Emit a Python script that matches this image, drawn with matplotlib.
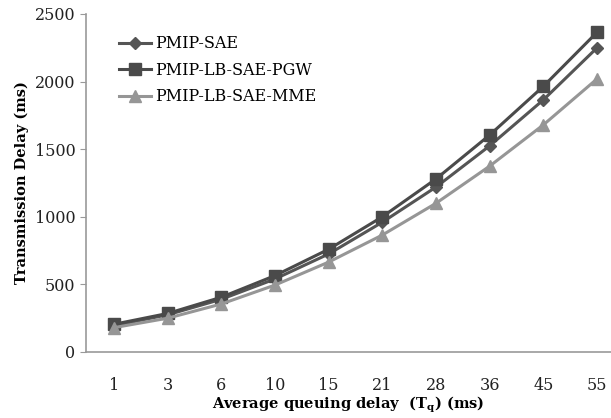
import matplotlib
matplotlib.use("Agg")
import matplotlib.pyplot as plt
import numpy as np

categories = ["1", "3", "6", "10", "15", "21", "28", "36", "45", "55"]
pmip_sae = [195, 275, 390, 540, 725, 960, 1220, 1525, 1865, 2250]
pmip_lb_pgw = [205, 285, 405, 565, 760, 1000, 1280, 1605, 1965, 2365]
pmip_lb_mme = [180, 250, 355, 495, 665, 865, 1100, 1375, 1680, 2020]
yticks = [0, 500, 1000, 1500, 2000, 2500]

plt.rcParams['font.family'] = ['DejaVu Serif']

fig = plt.figure(figsize=(6.11, 4.18), dpi=100)
ax = fig.add_axes([86/611, 1-352/418, 1-86/611, 338/418])

x = np.arange(len(categories))
ax.plot(x, pmip_sae, color='#555555', marker='D', markersize=6, lw=2.2, label='PMIP-SAE')
ax.plot(x, pmip_lb_pgw, color='#4a4a4a', marker='s', markersize=8, lw=2.2, label='PMIP-LB-SAE-PGW')
ax.plot(x, pmip_lb_mme, color='#969696', marker='^', markersize=8, lw=2.2, label='PMIP-LB-SAE-MME')

ax.set_xlim(-0.52, 9.26)
ax.set_ylim(0, 2500)
ax.set_xticks(x)
ax.set_xticklabels(categories)
ax.set_yticks(yticks)
for s in ['top', 'right']:
    ax.spines[s].set_visible(False)
for s in ['left', 'bottom']:
    ax.spines[s].set_color('#999999')
    ax.spines[s].set_linewidth(1.2)
ax.tick_params(axis='x', length=0, pad=18, labelsize=11.5, colors='#222222')
ax.tick_params(axis='y', length=4, color='#999999', labelsize=11.5, labelcolor='#222222')

ax.set_xlabel('Average queuing delay  (T$_\\mathregular{q}$) (ms)', fontsize=10.5, fontweight='bold', labelpad=0.5)
ax.set_ylabel('Transmission Delay (ms)', fontsize=10.5, fontweight='bold', labelpad=4)

ax.legend(loc='upper left', bbox_to_anchor=(0.035, 0.98), frameon=False, fontsize=11.5,
          handlelength=2.0, labelspacing=0.6, handletextpad=0.25)

fig.savefig('out.png', dpi=100)
